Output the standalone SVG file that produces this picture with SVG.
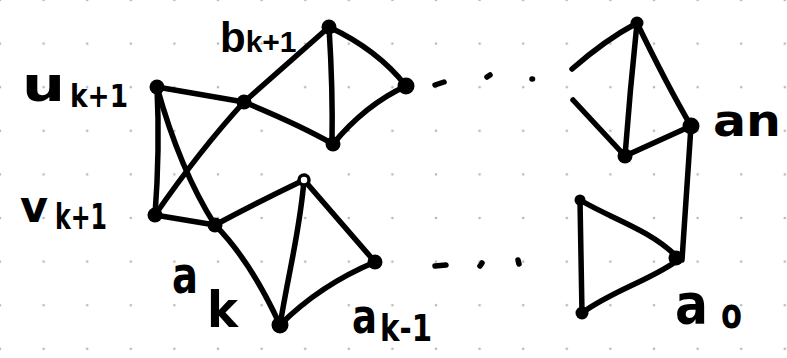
<svg xmlns="http://www.w3.org/2000/svg" width="787" height="358" viewBox="0 0 787 358">
<style>
.e{fill:none;stroke:#000;stroke-width:5.5;stroke-linecap:round;stroke-linejoin:round}
.n{fill:#000}
.o{fill:#fff;stroke:#000;stroke-width:3.5}
.t{font-family:"DejaVu Sans","Liberation Sans",sans-serif;font-weight:bold;fill:#000}
.l{font-family:"Liberation Sans","DejaVu Sans",sans-serif;font-weight:bold;fill:#000}
</style>
<defs>
<pattern id="grid" patternUnits="userSpaceOnUse" x="-21.8" y="-21.8" width="43.6" height="43.6">
<circle cx="21.8" cy="21.8" r="1.3" fill="#b8b8b8"/>
</pattern>
</defs>
<rect width="787" height="358" fill="#fff"/>
<rect width="787" height="358" fill="url(#grid)"/>
<g id="connectors">
<path class="e" d="M157,87 Q160,150 155,215"/>
<path class="e" d="M157,87 L244,102"/>
<path class="e" d="M157,87 Q180,170 215,225"/>
<path class="e" d="M155,215 Q200,150 244,102"/>
<path class="e" d="M155,215 L215,225"/>
<path class="e" d="M244,102 L329,27"/>
<path class="e" d="M244,102 Q300,125 333,144"/>
<path class="e" d="M329,27 Q333,90 332,144"/>
<path class="e" d="M329,27 Q378,50 406,86"/>
<path class="e" d="M406,86 Q365,105 333,144"/>
<path class="e" d="M215,225 Q262,200 304,180"/>
<path class="e" d="M215,225 Q250,260 280,325"/>
<path class="e" d="M304,180 C300,230 290,265 280,325"/>
<path class="e" d="M304,180 L375,262"/>
<path class="e" d="M375,262 Q320,285 280,325"/>
<path class="e" d="M435,85 L444,82"/>
<path class="e" d="M487,77 L490,75"/>
<path class="e" d="M532,79 L532.5,79"/>
<path class="e" d="M435,266 L446,265"/>
<path class="e" d="M480,266 L482,263"/>
<path class="e" d="M518,260 L519,264"/>
<path class="e" d="M637,23 Q605,40 572,69"/>
<path class="e" d="M637,23 Q630,90 625,156"/>
<path class="e" d="M637,23 Q667,85 691,126"/>
<path class="e" d="M573,100 L625,156"/>
<path class="e" d="M625,156 L691,126"/>
<path class="e" d="M691,126 L682,260"/>
<path class="e" d="M580,200 C610,218 650,230 675,255"/>
<path class="e" d="M675,262 C650,280 610,292 582,313"/>
<path class="e" d="M580,200 L582,313"/>
</g>
<g id="u_k1"><circle class="n" cx="157" cy="87" r="7.5"/>
<text class="t" x="22" y="101" font-size="48" textLength="43" lengthAdjust="spacingAndGlyphs">u</text>
<text class="t" x="70" y="107" font-size="32" textLength="58" lengthAdjust="spacingAndGlyphs">k+1</text></g>
<g id="v_k1"><circle class="n" cx="155" cy="215" r="7.5"/>
<text class="t" x="20" y="222" font-size="44" textLength="28" lengthAdjust="spacingAndGlyphs">v</text>
<text class="t" x="55" y="229" font-size="35" textLength="52" lengthAdjust="spacingAndGlyphs">k+1</text></g>
<g id="b_k1"><circle class="n" cx="244" cy="102" r="7.5"/>
<text class="l" x="220" y="52"><tspan font-size="42">b</tspan><tspan font-size="30">k+1</tspan></text></g>
<g id="top1"><circle class="n" cx="329" cy="27" r="7.5"/></g>
<g id="right1"><circle class="n" cx="406" cy="86" r="8.5"/></g>
<g id="bottom1"><circle class="n" cx="333" cy="144" r="7.5"/></g>
<g id="a_k"><circle class="n" cx="215" cy="225" r="7.5"/>
<text class="t" x="172" y="293" font-size="52" textLength="26" lengthAdjust="spacingAndGlyphs">a</text>
<text class="t" x="207" y="327" font-size="50" textLength="31" lengthAdjust="spacingAndGlyphs">k</text></g>
<g id="open1"><circle class="o" cx="304" cy="180" r="5"/></g>
<g id="right2"><circle class="n" cx="375" cy="262" r="7.5"/></g>
<g id="a_km1"><circle class="n" cx="280" cy="325" r="8.5"/>
<text class="t" x="352" y="333" font-size="48" textLength="25" lengthAdjust="spacingAndGlyphs">a</text>
<text class="t" x="380" y="341" font-size="38" textLength="52" lengthAdjust="spacingAndGlyphs">k-1</text></g>
<g id="top2"><circle class="n" cx="637" cy="23" r="6.5"/></g>
<g id="a_n"><circle class="n" cx="691" cy="126" r="8.5"/>
<text class="t" x="713" y="136" font-size="44" textLength="68" lengthAdjust="spacingAndGlyphs">an</text></g>
<g id="bottom2"><circle class="n" cx="625" cy="156" r="7.5"/></g>
<g id="a_0"><circle class="n" cx="676" cy="258" r="7.5"/>
<text class="t" x="675" y="323" font-size="56" textLength="33" lengthAdjust="spacingAndGlyphs">a</text>
<text class="t" x="721" y="328" font-size="42" textLength="21" lengthAdjust="spacingAndGlyphs">o</text></g>
<g id="lt2"><circle class="n" cx="580" cy="200" r="5.5"/></g>
<g id="lb2"><circle class="n" cx="582" cy="313" r="6.5"/></g>
</svg>
